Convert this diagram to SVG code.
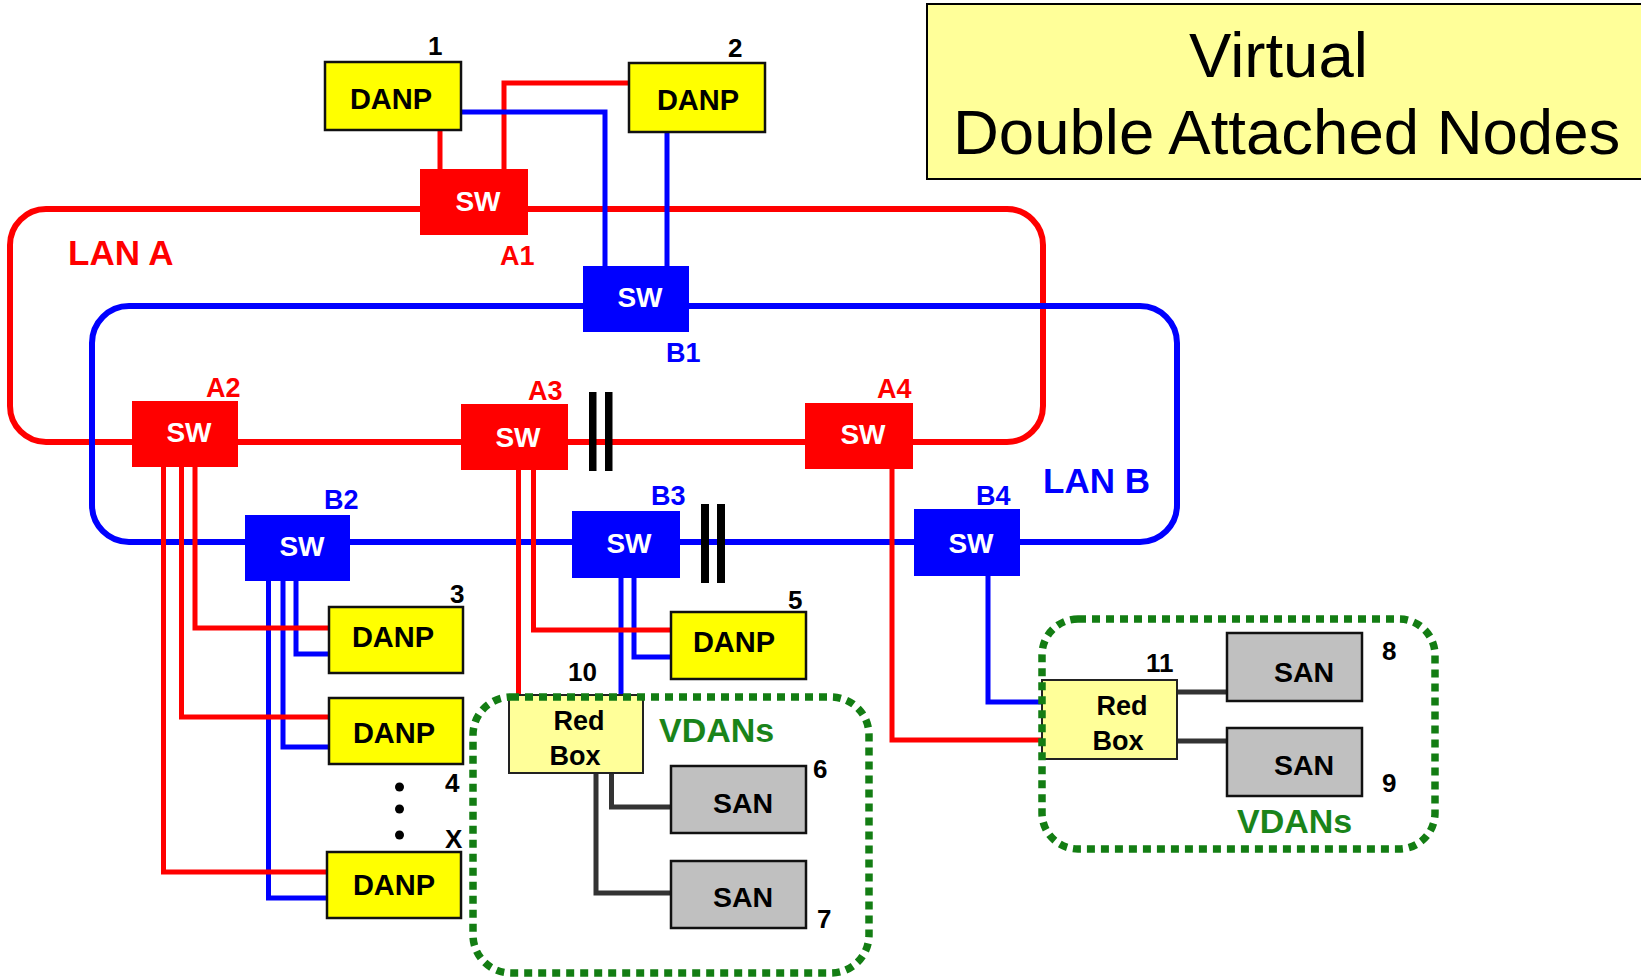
<svg xmlns="http://www.w3.org/2000/svg" width="1641" height="980" viewBox="0 0 1641 980">
  <style>
    text { font-family: "Liberation Sans", Arial, sans-serif; font-weight: bold; }
    text.ttl { font-weight: normal; font-size: 63.5px; fill: #000000; }
    .ring { fill: none; stroke-width: 6; }
    .lnk { fill: none; stroke-width: 5; stroke-linejoin: miter; }
    .red { stroke: #FF0000; }
    .blue { stroke: #0000FF; }
    .dark { stroke: #333333; stroke-width: 5; fill: none; }
    .danp { fill: #FFFF00; stroke: #111111; stroke-width: 2.5; }
    .san { fill: #C0C0C0; stroke: #111111; stroke-width: 2.5; }
    .rbox { fill: #FFFF99; stroke: #222222; stroke-width: 2; }
    .swa { fill: #FF0000; }
    .swb { fill: #0000FF; }
    .swt { fill: #FFFFFF; font-size: 28px; text-anchor: middle; }
    .nt { fill: #000000; font-size: 29px; text-anchor: middle; }
    .st { fill: #000000; font-size: 28.5px; text-anchor: middle; }
    .rt { fill: #000000; font-size: 27px; text-anchor: middle; }
    .num { fill: #000000; font-size: 26px; }
    .la { fill: #FF0000; font-size: 27px; }
    .lb { fill: #0000FF; font-size: 27px; }
    .vdan { fill: none; stroke: #137D13; stroke-width: 7.5; stroke-dasharray: 8 6; }
    .vt { fill: #1A841A; font-size: 34px; }
    .bar { fill: #000000; }
  </style>

  <!-- title -->
  <g id="title">
    <rect x="927" y="4" width="730" height="175" fill="#FFFF99" stroke="#000000" stroke-width="2"/>
    <text class="ttl" x="1189" y="77">Virtual</text>
    <text class="ttl" x="953" y="154">Double Attached Nodes</text>
  </g>

  <!-- connectors -->
  <g id="connectors">
    <!-- LAN A ring -->
    <rect class="ring red" x="10" y="209" width="1033" height="233" rx="36" ry="36"/>
    <!-- LAN A links at the top -->
    <path class="lnk red" d="M440 130 V169"/>
    <path class="lnk red" d="M504 169 V83 H629"/>
    <!-- LAN B ring -->
    <rect class="ring blue" x="92" y="306" width="1085" height="236" rx="37" ry="37"/>
    <!-- LAN B links at the top -->
    <path class="lnk blue" d="M461 112 H605 V266"/>
    <path class="lnk blue" d="M667 132 V266"/>
    <!-- LAN B links below -->
    <path class="lnk blue" d="M268.5 581 V898 H327"/>
    <path class="lnk blue" d="M283 581 V747 H329"/>
    <path class="lnk blue" d="M296 581 V654 H329"/>
    <path class="lnk blue" stroke-width="4.5" d="M621 578 V695"/>
    <path class="lnk blue" stroke-width="4.5" d="M634 578 V657 H671"/>
    <path class="lnk blue" stroke-width="4.5" d="M988 576 V702 H1042"/>
    <!-- LAN A links below -->
    <path class="lnk red" d="M163.5 467 V872 H327"/>
    <path class="lnk red" d="M181.5 467 V717 H329"/>
    <path class="lnk red" d="M195 467 V628 H329"/>
    <path class="lnk red" d="M518.5 470 V695"/>
    <path class="lnk red" d="M533.5 470 V630 H671"/>
    <path class="lnk red" stroke-width="4.5" d="M892 469 V740 H1042"/>
    <!-- RedBox to SAN links -->
    <path class="dark" d="M611.5 773 V807 H671"/>
    <path class="dark" d="M596 773 V893 H671"/>
    <path class="dark" d="M1177 692 H1227"/>
    <path class="dark" d="M1177 741 H1227"/>
    <!-- ring breaks -->
    <rect class="bar" x="589" y="392" width="7.5" height="79"/>
    <rect class="bar" x="605" y="392" width="7.5" height="79"/>
    <rect class="bar" x="701" y="504" width="8" height="79"/>
    <rect class="bar" x="717" y="504" width="8" height="79"/>
  </g>

  <!-- ring labels -->
  <g id="lan-labels">
    <text x="68" y="265" font-size="35" fill="#FF0000">LAN A</text>
    <text x="1043" y="493" font-size="35" fill="#0000FF">LAN B</text>
  </g>

  <!-- switches, LAN A -->
  <g id="sw-a1">
    <rect class="swa" x="420" y="169" width="108" height="66"/>
    <text class="swt" x="478" y="211">SW</text>
    <text class="la" x="500" y="265">A1</text>
  </g>
  <g id="sw-a2">
    <rect class="swa" x="132" y="401" width="106" height="66"/>
    <text class="swt" x="189" y="442">SW</text>
    <text class="la" x="206" y="397">A2</text>
  </g>
  <g id="sw-a3">
    <rect class="swa" x="461" y="404" width="107" height="66"/>
    <text class="swt" x="518" y="447">SW</text>
    <text class="la" x="528" y="400">A3</text>
  </g>
  <g id="sw-a4">
    <rect class="swa" x="805" y="403" width="108" height="66"/>
    <text class="swt" x="863" y="444">SW</text>
    <text class="la" x="877" y="398">A4</text>
  </g>

  <!-- switches, LAN B -->
  <g id="sw-b1">
    <rect class="swb" x="583" y="266" width="106" height="66"/>
    <text class="swt" x="640" y="307">SW</text>
    <text class="lb" x="666" y="362" font-size="25">B1</text>
  </g>
  <g id="sw-b2">
    <rect class="swb" x="245" y="515" width="105" height="66"/>
    <text class="swt" x="302" y="556">SW</text>
    <text class="lb" x="324" y="509">B2</text>
  </g>
  <g id="sw-b3">
    <rect class="swb" x="572" y="511" width="108" height="67"/>
    <text class="swt" x="629" y="553">SW</text>
    <text class="lb" x="651" y="505">B3</text>
  </g>
  <g id="sw-b4">
    <rect class="swb" x="914" y="509" width="106" height="67"/>
    <text class="swt" x="971" y="553">SW</text>
    <text class="lb" x="976" y="505">B4</text>
  </g>

  <!-- DANP nodes -->
  <g id="danp-1">
    <rect class="danp" x="325" y="62" width="136" height="68"/>
    <text class="nt" x="391" y="109">DANP</text>
    <text class="num" x="428" y="55">1</text>
  </g>
  <g id="danp-2">
    <rect class="danp" x="629" y="63" width="136" height="69"/>
    <text class="nt" x="698" y="110">DANP</text>
    <text class="num" x="728" y="57">2</text>
  </g>
  <g id="danp-3">
    <rect class="danp" x="329" y="607" width="134" height="66"/>
    <text class="nt" x="393" y="647">DANP</text>
    <text class="num" x="450" y="603">3</text>
  </g>
  <g id="danp-4">
    <rect class="danp" x="329" y="698" width="134" height="66"/>
    <text class="nt" x="394" y="743">DANP</text>
    <text class="num" x="445" y="792">4</text>
  </g>
  <g id="ellipsis">
    <circle cx="399.5" cy="787" r="4.5" fill="#000"/>
    <circle cx="399.5" cy="809" r="4.5" fill="#000"/>
    <circle cx="399.5" cy="835" r="4.5" fill="#000"/>
  </g>
  <g id="danp-x">
    <rect class="danp" x="327" y="852" width="134" height="66"/>
    <text class="nt" x="394" y="895">DANP</text>
    <text class="num" x="445" y="848">X</text>
  </g>
  <g id="danp-5">
    <rect class="danp" x="671" y="612" width="135" height="67"/>
    <text class="nt" x="734" y="652">DANP</text>
    <text class="num" x="788" y="609">5</text>
  </g>

  <!-- RedBox 10 with its SANs -->
  <g id="redbox-10">
    <rect class="rbox" x="509" y="695" width="134" height="78"/>
    <text class="rt" x="579" y="730">Red</text>
    <text class="rt" x="575" y="765">Box</text>
    <text class="num" x="568" y="681">10</text>
  </g>
  <g id="san-6">
    <rect class="san" x="671" y="766" width="135" height="67"/>
    <text class="st" x="743" y="813">SAN</text>
    <text class="num" x="813" y="778">6</text>
  </g>
  <g id="san-7">
    <rect class="san" x="671" y="861" width="135" height="67"/>
    <text class="st" x="743" y="907">SAN</text>
    <text class="num" x="817" y="928">7</text>
  </g>
  <g id="vdans-10">
    <rect class="vdan" x="473" y="697" width="396" height="276" rx="38" ry="38"/>
    <text class="vt" x="659" y="742">VDANs</text>
  </g>

  <!-- RedBox 11 with its SANs -->
  <g id="redbox-11">
    <rect class="rbox" x="1042" y="680" width="135" height="79" stroke="#FF0000" stroke-width="2.5"/>
    <text class="rt" x="1122" y="715">Red</text>
    <text class="rt" x="1118" y="750">Box</text>
    <text class="num" x="1146" y="672">11</text>
  </g>
  <g id="san-8">
    <rect class="san" x="1227" y="633" width="135" height="68"/>
    <text class="st" x="1304" y="682">SAN</text>
    <text class="num" x="1382" y="660">8</text>
  </g>
  <g id="san-9">
    <rect class="san" x="1227" y="728" width="135" height="68"/>
    <text class="st" x="1304" y="775">SAN</text>
    <text class="num" x="1382" y="792">9</text>
  </g>
  <g id="vdans-11">
    <rect class="vdan" x="1042" y="619" width="393" height="230" rx="36" ry="36"/>
    <text class="vt" x="1237" y="833">VDANs</text>
  </g>
</svg>
